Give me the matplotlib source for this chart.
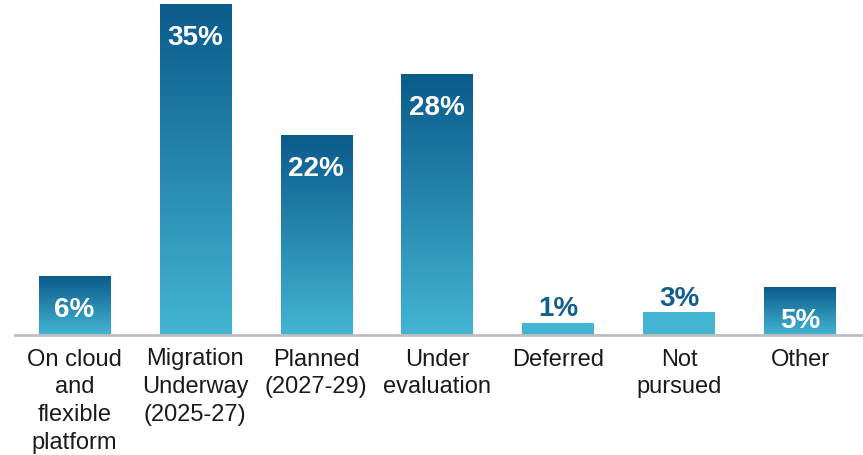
import matplotlib
matplotlib.use("Agg")
import matplotlib.pyplot as plt
import numpy as np
from matplotlib.colors import LinearSegmentedColormap

plt.rcParams['font.family'] = ['Liberation Sans', 'DejaVu Sans']

categories = ["On cloud\nand\nflexible\nplatform", "Migration\nUnderway\n(2025-27)",
              "Planned\n(2027-29)", "Under\nevaluation", "Deferred", "Not\npursued", "Other"]
# bar heights, labels as printed
heights = [6.2, 35.0, 21.2, 27.6, 1.3, 2.4, 5.0]
labels = ["6%", "35%", "22%", "28%", "1%", "3%", "5%"]

DARK = "#0B5B8B"
LIGHT = "#43B5D3"
LABEL_OUT = "#125E8E"
BAR_W = 0.59

cmap = LinearSegmentedColormap.from_list("bar", [LIGHT, DARK])
grad = np.linspace(0, 1, 256).reshape(-1, 1)

fig = plt.figure(figsize=(8.63, 4.56), dpi=100)
ax = fig.add_axes([15 / 863, 120 / 456, 848 / 863, 336 / 456])
ax.set_xlim(-0.49, 6.52)
ax.set_ylim(0, 35.63)

for i, (h, lab) in enumerate(zip(heights, labels)):
    x0, x1 = i - BAR_W / 2, i + BAR_W / 2
    if h >= 4:
        ax.imshow(grad, cmap=cmap, origin="lower", aspect="auto",
                  extent=(x0, x1, 0, h), zorder=2)
        ax.text(i, h - 3.45, lab, ha="center", va="center", color="white",
                fontsize=20, fontweight="bold", zorder=3)
    else:
        ax.bar(i, h, width=BAR_W, color=LIGHT, zorder=2)
        ax.text(i, h + 0.15, lab, ha="center", va="bottom", color=LABEL_OUT,
                fontsize=20, fontweight="bold", zorder=3)

ax.set_xticks(range(len(categories)))
ax.set_xticklabels(categories, fontsize=17, color="#1a1a1a", linespacing=1.35)
ax.tick_params(axis="x", length=0, pad=9)
ax.set_yticks([])
for s in ["top", "right", "left"]:
    ax.spines[s].set_visible(False)
ax.spines["bottom"].set_color("#BFBFBF")
ax.spines["bottom"].set_linewidth(2)
ax.spines["bottom"].set_zorder(4)

fig.savefig("out.png", dpi=100, facecolor="white")
